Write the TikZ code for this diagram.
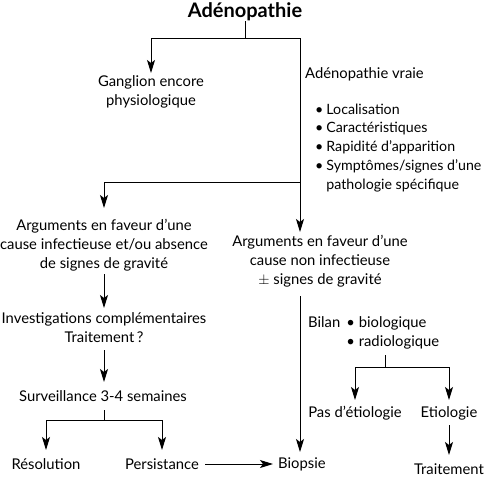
\documentclass[tikz,border=0pt]{standalone}
\usepackage{fontspec}
\setmainfont{Lato}
\usetikzlibrary{arrows.meta}
\begin{document}
\begin{tikzpicture}[x=1pt,y=-1pt,
  txt/.style={inner sep=0pt, font=\fontsize{14.8}{18.8}\selectfont, align=center},
  ln/.style={line width=0.9pt},
  arr/.style={line width=0.9pt, -{Stealth[length=13pt,width=8pt,inset=3pt]}}]
\useasboundingbox (0,0) rectangle (487,477);
% nodes
\node[txt, font=\fontsize{20}{22}\selectfont\bfseries] (title) at (245,12) {Adénopathie};
\node[txt] (gang) at (151,92) {Ganglion encore\\physiologique};
\node[txt, anchor=west] (vraie) at (305,74) {Adénopathie vraie};
\node[txt, anchor=west, font=\fontsize{14.2}{18.8}\selectfont] (list) at (315,148) {\def\arraystretch{1}\begin{tabular}{@{}l@{\hspace{3pt}}l@{}}
\textbullet & Localisation\\
\textbullet & Caractéristiques\\
\textbullet & Rapidité d’apparition\\
\textbullet & Symptômes/signes d’une\\
 & pathologie spécifique
\end{tabular}};
\node[txt] (argl) at (104,245) {Arguments en faveur d’une\\cause infectieuse et/ou absence\\de signes de gravité};
\node[txt] (argr) at (320,261) {Arguments en faveur d’une\\cause non infectieuse\\$\pm$ signes de gravité};
\node[txt] (inv) at (104,328) {Investigations complémentaires\\Traitement\,?};
\node[txt] (surv) at (103,396) {Surveillance 3-4 semaines};
\node[txt] (reso) at (46,464) {Résolution};
\node[txt] (pers) at (162,464) {Persistance};
\node[txt, anchor=west] (bio) at (278,464) {Biopsie};
\node[txt, anchor=west] (bilan) at (308,333) {\def\arraystretch{1}\begin{tabular}{@{}l@{\hspace{6pt}}l@{\hspace{4pt}}l@{}}
Bilan & \textbullet & biologique\\
 & \textbullet & radiologique
\end{tabular}};
\node[txt] (pas) at (355,413) {Pas d’étiologie};
\node[txt] (etio) at (449,413) {Etiologie};
\node[txt] (trait) at (449,469) {Traitement};
% coordinates
\coordinate (t1) at (245,38);
\coordinate (tl) at (151,38);
\coordinate (tr) at (300,38);
\coordinate (b1) at (300,182);
\coordinate (bl) at (104,182);
\coordinate (bd) at (300,232);
\coordinate (ld) at (104,208);
\coordinate (s1) at (104,420);
\coordinate (sl) at (46,420);
\coordinate (sr) at (162,420);
\coordinate (rd) at (300,296);
\coordinate (r0) at (385,355);
\coordinate (r1) at (385,367);
\coordinate (rl) at (355,367);
\coordinate (rr) at (449,367);
% connectors
\draw[ln] (title.south) -- (t1);
\draw[ln] (tl) -- (tr) -- (b1);
\draw[arr] (tl) -- (151,73);
\draw[arr] (b1) -- (bd);
\draw[ln] (b1) -- (bl);
\draw[arr] (bl) -- (ld);
\draw[arr] (104,274) -- (104,308);
\draw[arr] (104,350) -- (104,382);
\draw[ln] (104,410) -- (s1);
\draw[ln] (sl) -- (sr);
\draw[arr] (sl) -- (46,450);
\draw[arr] (sr) -- (162,450);
\draw[arr] ([xshift=6pt]pers.east) -- ([xshift=-5pt]bio.west);
\draw[arr] (rd) -- (300,452);
\draw[ln] (r0) -- (r1);
\draw[ln] (rl) -- (rr);
\draw[arr] (rl) -- (355,400);
\draw[arr] (rr) -- (449,400);
\draw[arr] (449,425) -- (449,455);
\end{tikzpicture}
\end{document}
